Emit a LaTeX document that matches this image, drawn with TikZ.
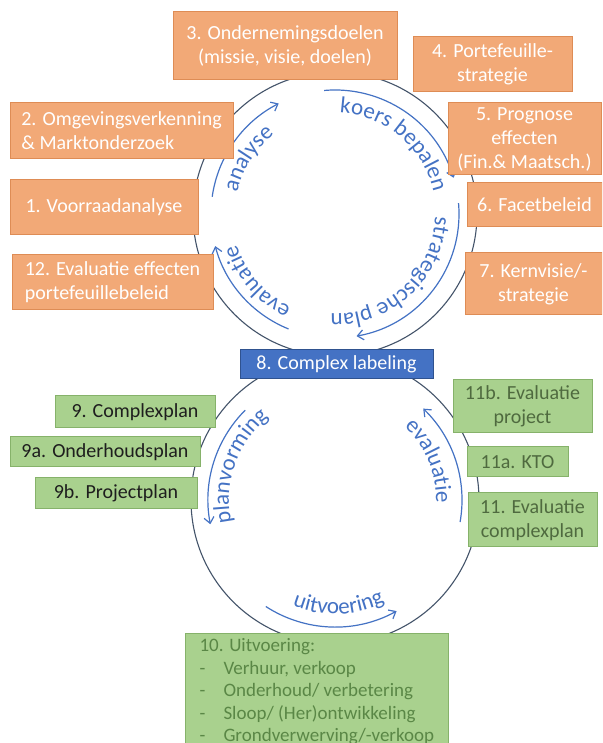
\documentclass[tikz,border=0pt]{standalone}
\usepackage{fontspec}
\setmainfont{Carlito}
\usetikzlibrary{arrows.meta,decorations.text}
\definecolor{orfill}{HTML}{F2A977}
\definecolor{ordraw}{HTML}{DE8C55}
\definecolor{grfill}{HTML}{A9D18E}
\definecolor{grdraw}{HTML}{86B26A}
\definecolor{cxfill}{HTML}{4472C4}
\definecolor{cxdraw}{HTML}{2F528F}
\definecolor{ringcol}{HTML}{44546A}
\definecolor{arcblue}{HTML}{4472C4}
\definecolor{txtdark}{HTML}{1E1E1E}
\definecolor{txtmuted}{HTML}{4F6A3F}
\definecolor{txtgreen}{HTML}{5A8746}
\newcommand\boxfont{\fontsize{20}{24}\selectfont}
\newcommand\listfont{\fontsize{19}{22.5}\selectfont}
\newcommand\arclabfont{\fontsize{23}{27}\selectfont}
\tikzset{
  orbox/.style={draw=ordraw, fill=orfill, line width=1pt, text=white, font=\boxfont, inner sep=2pt, align=center},
  grbox/.style={draw=grdraw, fill=grfill, line width=1pt, text=txtdark, font=\boxfont, inner sep=2pt, align=center},
  cxbox/.style={draw=cxdraw, fill=cxfill, line width=1pt, text=white, font=\boxfont, inner sep=2pt, align=center},
  ring/.style={draw=ringcol, line width=1.1pt},
  flow/.style={-{Straight Barb[length=6pt,width=10pt]}, line width=1.2pt, draw=arcblue},
  arclab/.style={decorate, decoration={text along path, text align=center, text color=arcblue}},
}

\begin{document}
\begin{tikzpicture}[x=1pt,y=1pt]
  \clip (0,0) rectangle (602,743);
  \fill[white] (0,0) rectangle (602,743);
  \coordinate (T) at (335,529);
  \coordinate (B) at (335,243);
  \draw[ring] (T) circle[radius=142];
  \draw[ring] (B) circle[radius=144];

  \draw[flow] (T) ++(172:124) arc[start angle=172, end angle=117, radius=124];
  \draw[flow] (T) ++(95:124) arc[start angle=95, end angle=17, radius=124];
  \draw[flow] (T) ++(5:124) arc[start angle=5, end angle=-80, radius=124];
  \draw[flow] (T) ++(248:124) arc[start angle=248, end angle=195, radius=124];
  \draw[flow] (B) ++(135:127) arc[start angle=135, end angle=191, radius=127];
  \draw[flow] (B) ++(237:127) arc[start angle=237, end angle=299, radius=127];
  \draw[flow] (B) ++(-10:127) arc[start angle=-10, end angle=46, radius=127];

  \path[arclab, decoration={text={|\arclabfont|analyse}}] (T) ++(187.5:100) arc[start angle=187.5, end angle=107.5, radius=100];
  \path[arclab, decoration={text={|\arclabfont|koers bepalen}}] (T) ++(110:101) arc[start angle=110, end angle=-10, radius=101];
  \path[arclab, decoration={text={|\arclabfont|strategische plan}}] (T) ++(13:100) arc[start angle=13, end angle=-107, radius=100];
  \path[arclab, decoration={text={|\arclabfont|evaluatie}}] (T) ++(261:103) arc[start angle=261, end angle=181, radius=103];
  \path[arclab, decoration={text={|\arclabfont|planvorming}}] (B) ++(200.5:106) arc[start angle=200.5, end angle=120.5, radius=106];
  \path[arclab, decoration={text={|\arclabfont|evaluatie}}] (B) ++(62.5:101) arc[start angle=62.5, end angle=-17.5, radius=101];
  \path[arclab, decoration={text={|\arclabfont|uitvoering}}] (B) ++(232:114) arc[start angle=232, end angle=312, radius=114];

  \node[orbox, minimum width=224pt, minimum height=68pt] (b3) at (285,697) {3. Ondernemingsdoelen\\(missie, visie, doelen)};
  \node[orbox, minimum width=159pt, minimum height=55pt] (b4) at (492.5,678.5) {4. Portefeuille-\\strategie};
  \node[orbox, minimum width=153pt, minimum height=72pt] (b5) at (524.5,604) {5. Prognose\\effecten\\(Fin.\& Maatsch.)};
  \node[orbox, minimum width=135pt, minimum height=44pt] (b6) at (534.5,538) {6. Facetbeleid};
  \node[orbox, minimum width=137pt, minimum height=62pt] (b7) at (533.5,459) {7. Kernvisie/-\\strategie};
  \node[orbox, minimum width=223pt, minimum height=56pt, align=left] (b2) at (121.5,612) {2. Omgevingsverkenning\\\& Marktonderzoek};
  \node[orbox, minimum width=188pt, minimum height=55pt] (b1) at (104,535.5) {1. Voorraadanalyse};
  \node[orbox, minimum width=201pt, minimum height=55pt, align=left] (b12) at (112.5,460.5) {12. Evaluatie effecten\\portefeuillebeleid};

  \node[cxbox, minimum width=193pt, minimum height=29pt] (b8) at (336.5,378.5) {8. Complex labeling};

  \node[grbox, minimum width=160pt, minimum height=32pt] (b9) at (135,331) {9. Complexplan};
  \node[grbox, minimum width=190pt, minimum height=30pt] (b9a) at (105,291) {9a. Onderhoudsplan};
  \node[grbox, minimum width=162pt, minimum height=31pt] (b9b) at (116,249.5) {9b. Projectplan};
  \node[grbox, text=txtmuted, minimum width=139pt, minimum height=53pt] (b11b) at (522.5,336.5) {11b. Evaluatie\\project};
  \node[grbox, text=txtmuted, minimum width=101pt, minimum height=30pt] (b11a) at (517.5,281) {11a. KTO};
  \node[grbox, text=txtmuted, minimum width=129pt, minimum height=54pt] (b11) at (532.5,223) {11. Evaluatie\\complexplan};
  \node[grbox, anchor=north west, text=txtgreen, font=\listfont, align=flush left, text width=235pt, inner xsep=14pt, inner ysep=5pt] (b10) at (185,110)
    {10. Uitvoering:\\
     \makebox[24pt][l]{-}Verhuur, verkoop\\
     \makebox[24pt][l]{-}Onderhoud/ verbetering\\
     \makebox[24pt][l]{-}Sloop/ (Her)ontwikkeling\\
     \makebox[24pt][l]{-}Grondverwerving/-verkoop};
\end{tikzpicture}
\end{document}
